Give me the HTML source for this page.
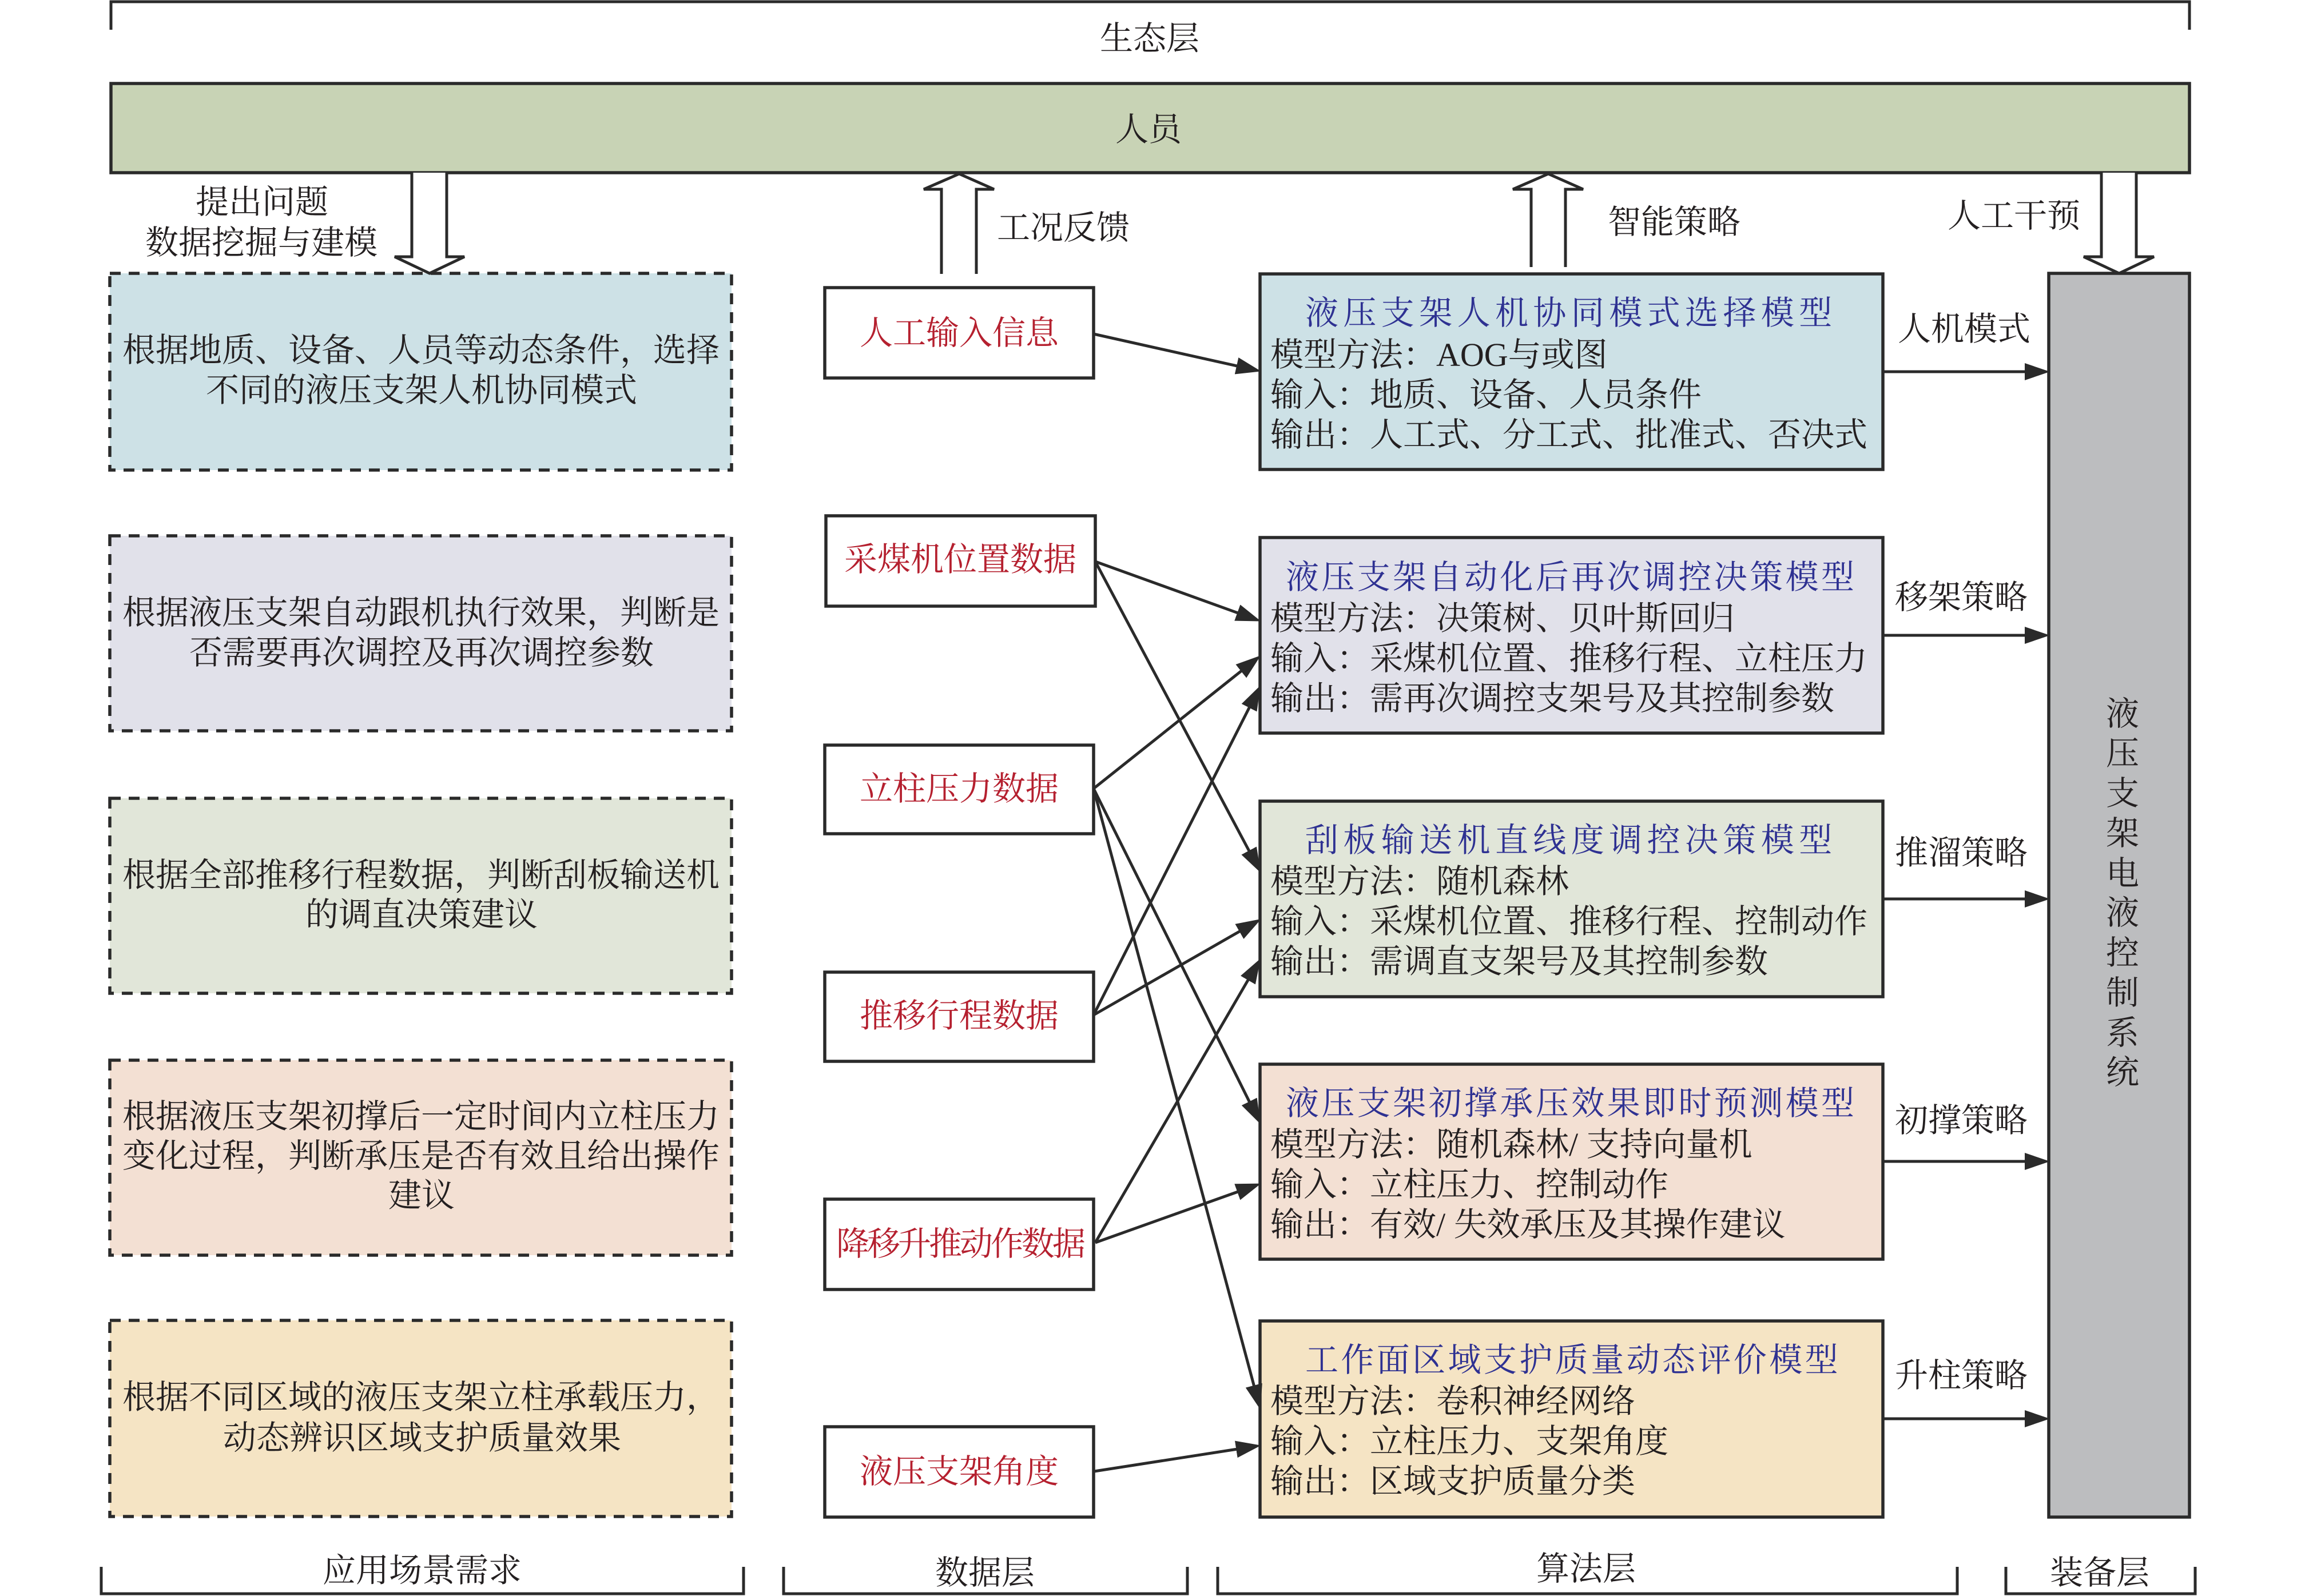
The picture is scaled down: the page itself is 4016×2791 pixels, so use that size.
<!DOCTYPE html>
<html lang="zh"><head><meta charset="utf-8"><title>液压支架人机协同架构</title>
<style>
html,body{margin:0;padding:0;background:#fff}
svg{display:block}
text{font-family:"Liberation Serif","Noto Serif CJK SC",serif;font-size:58px;fill:#231f20;transform:translateY(-3px)}
.c{text-anchor:middle}
.t{fill:#2e3192;transform:translateY(-5px)}
.ls8{letter-spacing:8.4px}
.ls4{letter-spacing:4.4px}
.r{fill:#b5202f;text-anchor:middle}
.box{stroke:#2a2a2a;stroke-width:5.5}
.dash{stroke:#2a2a2a;stroke-width:5.5;stroke-dasharray:19 14}
.l{stroke:#2a2a2a;stroke-width:5;fill:none}
.a{stroke:#2a2a2a;stroke-width:5;fill:none;marker-end:url(#h)}
.d{stroke:#2a2a2a;stroke-width:5;fill:#fff}
</style></head><body>
<svg xmlns="http://www.w3.org/2000/svg" width="4016" height="2791" viewBox="0 0 4016 2791">
<defs><marker id="h" markerUnits="userSpaceOnUse" markerWidth="46" markerHeight="32" refX="22" refY="16" orient="auto"><path d="M0,1 L44,16 L0,31 z" fill="#2a2a2a"/></marker></defs>
<rect width="4016" height="2791" fill="#fff"/>

<!-- brackets -->
<path class="l" d="M194,52 V3 H3828 V52"/>
<path class="l" d="M177,2740 V2787 H1300 V2740"/>
<path class="l" d="M1370,2740 V2787 H2076 V2740"/>
<path class="l" d="M2129,2740 V2787 H3422 V2740"/>
<path class="l" d="M3507,2740 V2787 H3838 V2740"/>

<!-- personnel bar -->
<rect class="box" x="194" y="146" width="3634" height="156" fill="#c8d3b5"/>

<!-- left dashed boxes -->
<rect class="dash" x="192" y="478" width="1087" height="344" fill="#cde1e6"/>
<rect class="dash" x="192" y="937" width="1087" height="341" fill="#e1e1ea"/>
<rect class="dash" x="192" y="1396" width="1087" height="341" fill="#e1e6d9"/>
<rect class="dash" x="192" y="1854" width="1087" height="341" fill="#f3e0d3"/>
<rect class="dash" x="192" y="2309" width="1087" height="343" fill="#f5e4c4"/>

<!-- data boxes -->
<rect class="box" x="1442" y="503" width="470" height="158" fill="#fff"/>
<rect class="box" x="1444" y="902" width="471" height="158" fill="#fff"/>
<rect class="box" x="1442" y="1303" width="470" height="155" fill="#fff"/>
<rect class="box" x="1442" y="1700" width="470" height="156" fill="#fff"/>
<rect class="box" x="1442" y="2097" width="470" height="158" fill="#fff"/>
<rect class="box" x="1442" y="2495" width="470" height="158" fill="#fff"/>

<!-- model boxes -->
<rect class="box" x="2203" y="479" width="1089" height="342" fill="#cde1e6"/>
<rect class="box" x="2203" y="940" width="1089" height="342" fill="#e1e1ea"/>
<rect class="box" x="2203" y="1401" width="1089" height="342" fill="#e1e6d9"/>
<rect class="box" x="2203" y="1861" width="1089" height="341" fill="#f3e0d3"/>
<rect class="box" x="2203" y="2310" width="1089" height="343" fill="#f5e4c4"/>

<!-- equipment -->
<rect class="box" x="3582" y="478" width="246" height="2175" fill="#bcbdbf"/>

<!-- double arrows -->
<path class="d" d="M720,302 V449 H690 L751,478 L812,449 H781 V302"/>
<path class="d" d="M1646,479 V331 H1615 L1677,304 L1738,331 H1707 V479"/>
<path class="d" d="M2677,467 V331 H2645 L2707,304 L2768,331 H2737 V467"/>
<path class="d" d="M3674,302 V449 H3643 L3705,478 L3766,449 H3735 V302"/>

<!-- connectors -->
<line class="a" x1="1912" y1="584" x2="2183.5" y2="644.6"/>
<line class="a" x1="1915" y1="982" x2="2184" y2="1079"/>
<line class="a" x1="1915" y1="982" x2="2194" y2="1507"/>
<line class="a" x1="1912" y1="1379" x2="2187" y2="1160"/>
<line class="a" x1="1912" y1="1379" x2="2194" y2="1946"/>
<line class="a" x1="1912" y1="1379" x2="2198" y2="2444"/>
<line class="a" x1="1912" y1="1775" x2="2194" y2="1218"/>
<line class="a" x1="1912" y1="1775" x2="2186" y2="1618"/>
<line class="a" x1="1915" y1="2173" x2="2193" y2="1695"/>
<line class="a" x1="1915" y1="2173" x2="2184" y2="2077"/>
<line class="a" x1="1913" y1="2573" x2="2183" y2="2531"/>
<line class="a" x1="3292" y1="650" x2="3562" y2="650"/>
<line class="a" x1="3292" y1="1111" x2="3562" y2="1111"/>
<line class="a" x1="3292" y1="1572" x2="3562" y2="1572"/>
<line class="a" x1="3292" y1="2031" x2="3562" y2="2031"/>
<line class="a" x1="3292" y1="2481" x2="3562" y2="2481"/>

<!-- top labels -->
<text class="c" x="2010" y="90">生态层</text>
<text class="c" x="2008" y="249">人员</text>
<text class="c" x="458" y="376">提出问题</text>
<text class="c" x="457" y="447">数据挖掘与建模</text>
<text x="1743" y="421">工况反馈</text>
<text x="2811" y="411">智能策略</text>
<text x="3405" y="400">人工干预</text>

<!-- left text -->
<text class="c" x="736" y="635">根据地质、设备、人员等动态条件，选择</text>
<text class="c" x="737" y="705">不同的液压支架人机协同模式</text>
<text class="c" x="736" y="1094">根据液压支架自动跟机执行效果，判断是</text>
<text class="c" x="737" y="1164">否需要再次调控及再次调控参数</text>
<text class="c" x="736" y="1553">根据全部推移行程数据，判断刮板输送机</text>
<text class="c" x="737" y="1622">的调直决策建议</text>
<text class="c" x="736" y="1975">根据液压支架初撑后一定时间内立柱压力</text>
<text class="c" x="736" y="2044">变化过程，判断承压是否有效且给出操作</text>
<text class="c" x="737" y="2113">建议</text>
<text x="214" y="2466">根据不同区域的液压支架立柱承载压力，</text>
<text class="c" x="738" y="2537">动态辨识区域支护质量效果</text>

<!-- data text -->
<text class="r" x="1677" y="605">人工输入信息</text>
<text class="r" x="1679" y="1001">采煤机位置数据</text>
<text class="r" x="1677" y="1402">立柱压力数据</text>
<text class="r" x="1677" y="1799">推移行程数据</text>
<text class="r" x="1678" y="2198" style="letter-spacing:-4px">降移升推动作数据</text>
<text class="r" x="1677" y="2596">液压支架角度</text>

<!-- model 1 -->
<text class="t ls8" x="2282" y="572">液压支架人机协同模式选择模型</text>
<text x="2221" y="643">模型方法：AOG与或图</text>
<text x="2221" y="713">输入：地质、设备、人员条件</text>
<text x="2221" y="783">输出：人工式、分工式、批准式、否决式</text>
<!-- model 2 -->
<text class="t ls4" x="2248" y="1034">液压支架自动化后再次调控决策模型</text>
<text x="2221" y="1104">模型方法：决策树、贝叶斯回归</text>
<text x="2221" y="1174">输入：采煤机位置、推移行程、立柱压力</text>
<text x="2221" y="1244">输出：需再次调控支架号及其控制参数</text>
<!-- model 3 -->
<text class="t ls8" x="2282" y="1494">刮板输送机直线度调控决策模型</text>
<text x="2221" y="1564">模型方法：随机森林</text>
<text x="2221" y="1634">输入：采煤机位置、推移行程、控制动作</text>
<text x="2221" y="1704">输出：需调直支架号及其控制参数</text>
<!-- model 4 -->
<text class="t ls4" x="2248" y="1954">液压支架初撑承压效果即时预测模型</text>
<text x="2221" y="2024">模型方法：随机森林/ 支持向量机</text>
<text x="2221" y="2094">输入：立柱压力、控制动作</text>
<text x="2221" y="2164">输出：有效/ 失效承压及其操作建议</text>
<!-- model 5 -->
<text class="t ls4" x="2282" y="2403">工作面区域支护质量动态评价模型</text>
<text x="2221" y="2473">模型方法：卷积神经网络</text>
<text x="2221" y="2543">输入：立柱压力、支架角度</text>
<text x="2221" y="2613">输出：区域支护质量分类</text>

<!-- strategy labels -->
<text class="c" x="3434" y="598">人机模式</text>
<text class="c" x="3429" y="1067">移架策略</text>
<text class="c" x="3429" y="1514">推溜策略</text>
<text class="c" x="3429" y="1982">初撑策略</text>
<text class="c" x="3429" y="2428">升柱策略</text>

<!-- vertical -->
<text class="c" x="3711" y="1271">液</text>
<text class="c" x="3711" y="1340">压</text>
<text class="c" x="3711" y="1410">支</text>
<text class="c" x="3711" y="1480">架</text>
<text class="c" x="3711" y="1550">电</text>
<text class="c" x="3711" y="1619">液</text>
<text class="c" x="3711" y="1689">控</text>
<text class="c" x="3711" y="1759">制</text>
<text class="c" x="3711" y="1829">系</text>
<text class="c" x="3711" y="1898">统</text>

<!-- bottom labels -->
<text class="c" x="738" y="2769">应用场景需求</text>
<text class="c" x="1722" y="2773">数据层</text>
<text class="c" x="2773" y="2766">算法层</text>
<text class="c" x="3671" y="2773">装备层</text>
</svg>
</body></html>
